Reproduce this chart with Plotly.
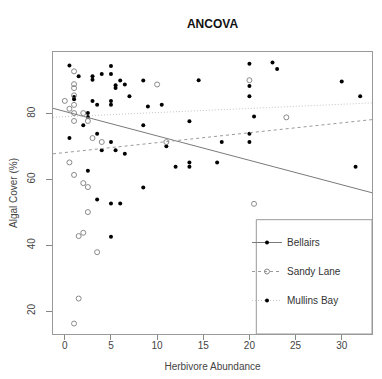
import plotly.graph_objects as go

# ---- data ----
bellairs_x = [0.5, 1.5, 3, 4, 5, 1, 3, 3.5, 5, 2.5, 2.5, 2, 3.5, 0.5, 5, 4, 5.5, 6.5, 2.5,
              3.5, 5, 6, 5, 8.5, 11, 12, 13.5, 13.5, 16.5, 17, 20, 20, 31.5]
bellairs_y = [94.7, 91.4, 91.4, 92.1, 94.5, 85.1, 83.9, 82.7, 82.7, 80.2, 79.0, 76.5, 73.9, 72.6, 71.4,
              68.9, 68.9, 67.8, 62.7, 53.9, 52.7, 52.7, 42.6, 57.6, 70.1, 63.9, 65.2, 63.9, 65.2, 71.4,
              73.9, 71.4, 63.9]

sandy_x = [0, 1, 1, 1, 1, 1, 0.5, 1, 2, 1, 2.5, 3, 4, 0.5, 1, 2, 2.5, 2.5, 2, 1.5, 3.5, 1.5, 1,
           10, 20, 24, 11, 20.5]
sandy_y = [83.9, 92.9, 89.0, 87.8, 85.6, 82.7, 81.5, 80.2, 80.2, 77.8, 77.8, 72.6, 71.4, 65.2, 61.4,
           58.9, 57.7, 50.1, 43.8, 42.8, 37.9, 23.8, 16.2, 88.9, 90.2, 78.9, 71.4, 52.6]

mullins_x = [3, 5, 5.5, 5.5, 6, 6.5, 7, 8.5, 1, 5, 14.5, 20, 20, 20, 22.5, 23, 30, 32, 9, 10.5,
             8.5, 13.5, 20.5]
mullins_y = [90.3, 92.1, 88.7, 87.8, 90.1, 88.9, 85.3, 90.1, 84.4, 83.9, 90.2, 95.2, 88.4, 85.3,
             95.6, 93.6, 89.8, 85.3, 82.2, 82.7, 76.5, 77.7, 79.2]

# fitted lines (intercept, slope) per site
site_names = ["Bellairs", "Sandy Lane", "Mullins Bay"]
fit_intercepts = [80.7, 68.2, 79.1]
fit_slopes = [-0.743, 0.301, 0.126]

x_ticks = [0, 5, 10, 15, 20, 25, 30]
y_ticks = [20, 40, 60, 80]

# axis ranges (R style 4% extension)
all_x = bellairs_x + sandy_x + mullins_x
all_y = bellairs_y + sandy_y + mullins_y
dx = (max(all_x) - min(all_x)) * 0.04
dy = (max(all_y) - min(all_y)) * 0.04
x_range = [min(all_x) - dx, max(all_x) + dx]
y_range = [min(all_y) - dy, max(all_y) + dy]

FONT = "Liberation Sans, Arial, Helvetica, sans-serif"
line_styles = [dict(color="#7a7a7a", width=1, dash="solid"),
               dict(color="#9a9a9a", width=1, dash="3px,3px"),
               dict(color="#c4c4c4", width=1, dash="1px,2px")]
marker_styles = [dict(color="black", size=4, symbol="circle"),
                 dict(color="#8a8a8a", size=5, symbol="circle-open", line=dict(color="#8a8a8a", width=1)),
                 dict(color="black", size=4, symbol="circle")]

fig = go.Figure()
groups = [(bellairs_x, bellairs_y), (sandy_x, sandy_y), (mullins_x, mullins_y)]
for i, (gx, gy) in enumerate(groups):
    fig.add_trace(go.Scatter(x=gx, y=gy, mode="markers", marker=marker_styles[i],
                             showlegend=False, hoverinfo="skip"))
for i in range(3):
    lx = x_range
    ly = [fit_intercepts[i] + fit_slopes[i] * v for v in lx]
    fig.add_trace(go.Scatter(x=lx, y=ly, mode="lines", line=line_styles[i],
                             showlegend=False, hoverinfo="skip"))
# legend entries
for i in range(3):
    fig.add_trace(go.Scatter(x=[None], y=[None], mode="lines+markers", name=site_names[i],
                             line=line_styles[i], marker=marker_styles[i], legendgroup=str(i)))

L, R, T, B = 45, 18, 44, 53
W, H = 382, 379
pw, ph = W - L - R, H - T - B

fig.update_layout(
    width=W, height=H,
    margin=dict(l=L, r=R, t=T, b=B, pad=0, autoexpand=False),
    plot_bgcolor="white", paper_bgcolor="white",
    font=dict(family=FONT, size=10, color="#333333"),
    title=dict(text="<b>ANCOVA</b>", x=(L + pw / 2) / W, xanchor="center",
               y=1 - 16 / H, yanchor="middle", font=dict(size=12, color="#111111")),
    xaxis=dict(range=x_range, tickvals=x_ticks, ticks="outside", ticklen=5, tickcolor="#888888",
               showline=True, linecolor="#999999", mirror=True, showgrid=False, zeroline=False,
               automargin=False, tickfont=dict(size=10, color="#444444"), ticklabelstandoff=-3,
               title=dict(text="Herbivore Abundance", standoff=12, font=dict(size=10, color="#444444"))),
    yaxis=dict(range=y_range, tickvals=y_ticks, ticks="outside", ticklen=6, tickcolor="#888888",
               showline=True, linecolor="#999999", mirror=True, showgrid=False, zeroline=False,
               automargin=False, tickangle=-90, tickfont=dict(size=10, color="#444444"),
               ticklabelstandoff=7,
               title=dict(text="Algal Cover (%)", standoff=10, font=dict(size=10, color="#444444"))),
    legend=dict(x=(239 - L) / pw, xanchor="left", y=(T + ph - 220) / ph, yanchor="top",
                bgcolor="rgba(0,0,0,0)", borderwidth=0, tracegroupgap=10,
                font=dict(size=10, color="#333333"), traceorder="grouped"),
    shapes=[dict(type="rect", xref="paper", yref="paper",
                 x0=(248.3 - L) / pw, x1=1, y0=0, y1=(T + ph - 211.7) / ph,
                 line=dict(color="#999999", width=1), fillcolor="rgba(0,0,0,0)")],
)

fig.write_html("out.html")
